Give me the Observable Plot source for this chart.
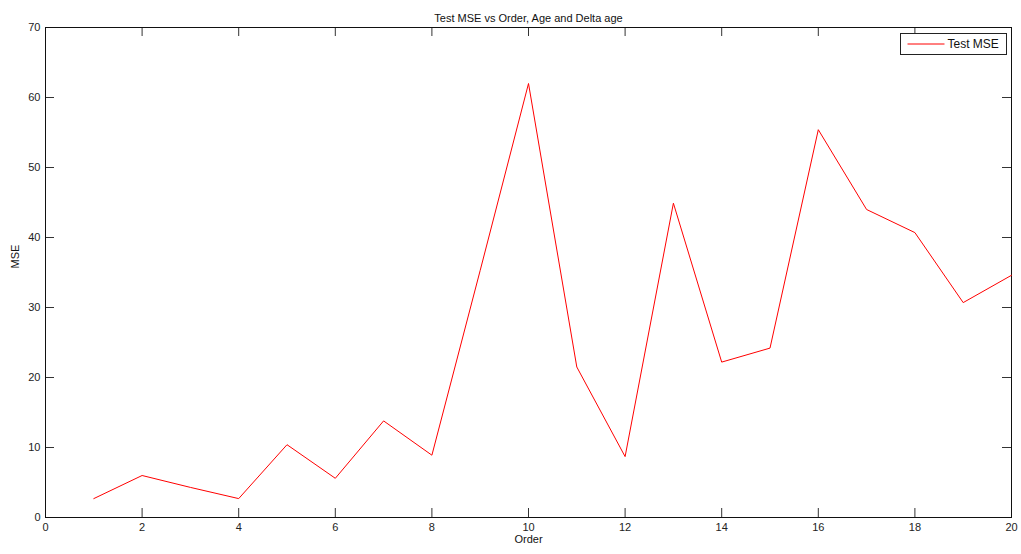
<!DOCTYPE html>
<html>
<head>
<meta charset="utf-8">
<script src="https://cdn.jsdelivr.net/npm/d3@7"></script>
<script src="https://cdn.jsdelivr.net/npm/@observablehq/plot@0.6"></script>
<style>
  html, body { margin: 0; padding: 0; background: #fff; }
  #chart svg { display: block; }
</style>
</head>
<body>
<div id="chart"></div>
<script>
const order = [1, 2, 3, 4, 5, 6, 7, 8, 9, 10, 11, 12, 13, 14, 15, 16, 17, 18, 19, 20];
const testMSE = [2.7, 6.0, 4.3, 2.7, 10.4, 5.6, 13.8, 8.9, 35.3, 62.0, 21.5, 8.7, 44.9, 22.2, 24.2, 55.4, 44.0, 40.7, 30.7, 34.6];
const xTicks = [0, 2, 4, 6, 8, 10, 12, 14, 16, 18, 20];
const yTicks = [0, 10, 20, 30, 40, 50, 60, 70];
const titleText = "Test MSE vs Order, Age and Delta age";
const xLabel = "Order";
const yLabel = "MSE";
const legendLabel = "Test MSE";

const data = order.map((o, i) => ({order: o, mse: testMSE[i]}));

const W = 1021, H = 554;
const mL = 45, mR = 10, mT = 27, mB = 37;
const innerW = W - mL - mR, innerH = H - mT - mB;
const tk = 9;
const font = "'Liberation Sans', Arial, sans-serif";

const plot = Plot.plot({
  width: W,
  height: H,
  marginLeft: mL,
  marginRight: mR,
  marginTop: mT,
  marginBottom: mB,
  style: {fontFamily: font, fontSize: "11px", color: "#222", background: "#fff"},
  x: {domain: [0, 20], ticks: xTicks, label: null},
  y: {domain: [0, 70], ticks: yTicks, label: null},
  marks: [
    Plot.axisX(xTicks, {tickSize: 0, tickPadding: 6, fontSize: 11, fill: "#222"}),
    Plot.axisY(yTicks, {tickSize: 0, tickPadding: 5, fontSize: 11, fill: "#222"}),
    // inward ticks, bottom and top
    Plot.tickX(xTicks, {x: d => d, stroke: "#333", insetTop: innerH - tk}),
    Plot.tickX(xTicks, {x: d => d, stroke: "#333", insetBottom: innerH - tk}),
    // inward ticks, left and right
    Plot.tickY(yTicks, {y: d => d, stroke: "#333", insetRight: innerW - tk}),
    Plot.tickY(yTicks, {y: d => d, stroke: "#333", insetLeft: innerW - tk}),
    Plot.frame({stroke: "#111", strokeWidth: 1}),
    Plot.line(data, {x: "order", y: "mse", stroke: "#ff0000", strokeWidth: 1}),
    Plot.text([titleText], {frameAnchor: "top", dy: -13, fontSize: 11, fill: "#111"}),
    Plot.text([xLabel], {frameAnchor: "bottom", dy: 25, fontSize: 11, fill: "#111"}),
    Plot.text([yLabel], {frameAnchor: "left", dx: -30, dy: -4, rotate: -90, fontSize: 11, fill: "#111"})
  ]
});

// Legend (MATLAB-style box in the top-right corner)
const svg = d3.select(plot);
const lg = svg.append("g").attr("font-family", font).attr("font-size", 12).attr("text-anchor", "start");
const lx = 900.5, ly = 33.5, lw = 106, lh = 21;
lg.append("rect").attr("x", lx).attr("y", ly).attr("width", lw).attr("height", lh)
  .attr("fill", "#fff").attr("stroke", "#222").attr("stroke-width", 1);
lg.append("line").attr("x1", lx + 7).attr("x2", lx + 44).attr("y1", ly + 10.5).attr("y2", ly + 10.5)
  .attr("stroke", "#ff0000").attr("stroke-width", 1);
lg.append("text").attr("x", lx + 47).attr("y", ly + 10.5).attr("dy", "0.35em")
  .attr("text-anchor", "start").attr("fill", "#111").text(legendLabel);

document.getElementById("chart").appendChild(plot);
</script>
</body>
</html>
